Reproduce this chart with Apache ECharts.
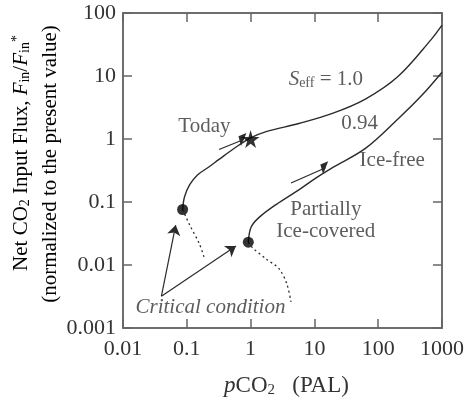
<!DOCTYPE html>
<html>
<head>
    <meta charset="utf-8" />
    <script src="https://cdn.jsdelivr.net/npm/echarts@6/dist/echarts.min.js"></script>
    <style>
        html, body { margin: 0; padding: 0; background: #fff; }
        #chart { width: 467px; height: 403px; }
    </style>
</head>
<body>
    <div id="chart"></div>
    <script type="text/javascript">
        // tick labels
        var xTickLabels = ['0.01', '0.1', '1', '10', '100', '1000'];
        var yTickLabels = ['0.001', '0.01', '0.1', '1', '10', '100'];

        // S_eff = 1.0 branch (pCO2, flux)
        var curve1X = [0.086, 0.092, 0.111, 0.147, 0.21, 0.324, 0.556, 1.0, 1.75, 5.7, 18.7, 63, 206, 675, 1000];
        var curve1Y = [0.076, 0.12, 0.188, 0.269, 0.346, 0.479, 0.713, 1.04, 1.31, 1.76, 2.52, 4.3, 9.9, 37.8, 64];

        // S_eff = 0.94 branch
        var curve2X = [0.92, 1.02, 1.36, 2.5, 5.7, 10.5, 18.7, 63, 206, 471, 1000];
        var curve2Y = [0.023, 0.040, 0.057, 0.091, 0.156, 0.24, 0.346, 0.71, 2.1, 4.8, 11.5];

        // dotted (unstable) continuations below the critical points
        var dotted1X = [0.086, 0.11, 0.158, 0.19];
        var dotted1Y = [0.076, 0.044, 0.0215, 0.0125];
        var dotted2X = [0.92, 1.06, 1.75, 2.8, 3.7, 4.3];
        var dotted2Y = [0.023, 0.019, 0.0125, 0.0087, 0.005, 0.0026];

        // markers
        var todayPoint = [1.0, 1.0];
        var criticalX = [0.086, 0.92];
        var criticalY = [0.076, 0.023];

        // arrows from the "Critical condition" label
        var criticalArrowFrom = [0.040, 0.0032];
        var criticalArrowTo = [[0.067, 0.043], [0.59, 0.020]];

        // direction arrows along the curves
        var flowArrows = [
            [[0.32, 0.68], [0.78, 0.98]],
            [[4.3, 0.20], [15, 0.35]]
        ];

        // annotation anchors
        var notes = [
            { name: 'today', at: [0.189, 1.57] },
            { name: 'seff', at: [15.1, 8.9] },
            { name: 'seff2', at: [51, 1.75] },
            { name: 'icefree', at: [166, 0.45] },
            { name: 'partial', at: [15.1, 0.051] },
            { name: 'critical', at: [0.235, 0.0021] }
        ];
        var noteText = {
            today: '{n|Today}',
            seff: '{i|S}{sub|eff}{n| = 1.0}',
            seff2: '{n|0.94}',
            icefree: '{n|Ice-free}',
            partial: '{n|Partially}\n{n|Ice-covered}',
            critical: '{i|Critical condition}'
        };

        var FONT = 'Liberation Serif';
        var INK = '#2b2b2b';
        var TXT = '#333';

        function zip(xs, ys) {
            var out = [];
            for (var i = 0; i < xs.length; i++) out.push([xs[i], ys[i]]);
            return out;
        }

        function tickIndex(v, lo) {
            return Math.round(Math.log(v) / Math.LN10) - lo;
        }

        var richBase = {
            n: { fontFamily: FONT, fontSize: 21, color: TXT, lineHeight: 22 },
            i: { fontFamily: FONT, fontSize: 21, fontStyle: 'italic', color: TXT, lineHeight: 22 },
            sub: { fontFamily: FONT, fontSize: 14, color: TXT, lineHeight: 11, verticalAlign: 'bottom' },
            sup: { fontFamily: FONT, fontSize: 14, color: TXT, lineHeight: 11, verticalAlign: 'top' }
        };
        var richTitle = {
            n: { fontFamily: FONT, fontSize: 23, color: TXT, lineHeight: 24 },
            i: { fontFamily: FONT, fontSize: 23, fontStyle: 'italic', color: TXT, lineHeight: 24 },
            sub: { fontFamily: FONT, fontSize: 15, color: TXT, lineHeight: 12, verticalAlign: 'bottom' }
        };

        var tickStyle = { show: true, inside: true, length: 9, lineStyle: { color: '#666', width: 1.5 } };
        var lineStyleAxis = { show: true, lineStyle: { color: '#666', width: 1.5 } };

        var chart = echarts.init(document.getElementById('chart'), null, { renderer: 'canvas' });

        var option = {
            animation: false,
            backgroundColor: '#fff',
            textStyle: { fontFamily: FONT },
            grid: {
                left: 123, right: 23, top: 13, bottom: 71,
                show: true, borderColor: '#666', borderWidth: 1.5
            },
            xAxis: [{
                type: 'log', logBase: 10, min: 0.01, max: 1000, splitNumber: 5,
                position: 'bottom',
                axisLine: lineStyleAxis,
                axisTick: tickStyle,
                splitLine: { show: false },
                axisLabel: {
                    margin: 10, fontFamily: FONT, fontSize: 22, color: TXT,
                    formatter: function (v) { return xTickLabels[tickIndex(v, -2)]; }
                },
                name: '{i|p}{n|CO}{sub|2}{n|   (PAL)}',
                nameLocation: 'middle', nameGap: 46,
                nameTextStyle: { rich: richTitle, padding: [0, 0, 0, 8] }
            }, {
                type: 'log', logBase: 10, min: 0.01, max: 1000, splitNumber: 5,
                position: 'top',
                axisLine: lineStyleAxis,
                axisTick: tickStyle,
                axisLabel: { show: false },
                splitLine: { show: false }
            }],
            yAxis: [{
                type: 'log', logBase: 10, min: 0.001, max: 100, splitNumber: 5,
                position: 'left',
                axisLine: lineStyleAxis,
                axisTick: tickStyle,
                splitLine: { show: false },
                axisLabel: {
                    margin: 7, fontFamily: FONT, fontSize: 22, color: TXT,
                    formatter: function (v) { return yTickLabels[tickIndex(v, -3)]; }
                }
            }, {
                type: 'log', logBase: 10, min: 0.001, max: 100, splitNumber: 5,
                position: 'right',
                axisLine: lineStyleAxis,
                axisTick: tickStyle,
                axisLabel: { show: false },
                splitLine: { show: false }
            }],
            graphic: [{
                type: 'text',
                x: 21, y: 153, rotation: Math.PI / 2,
                style: {
                    text: '{n|Net CO}{sub|2}{n| Input Flux, }{i|F}{sub|in}{n|/}{i|F}{sub|in}{sup|*}',
                    rich: richBase,
                    align: 'center', verticalAlign: 'middle'
                }
            }, {
                type: 'text',
                x: 50, y: 164, rotation: Math.PI / 2,
                style: {
                    text: '{n|(normalized to the present value)}',
                    rich: richBase,
                    align: 'center', verticalAlign: 'middle'
                }
            }],
            series: [{
                type: 'line', name: 'S_eff = 1.0',
                data: zip(curve1X, curve1Y),
                smooth: 0.35, showSymbol: false, symbol: 'none',
                lineStyle: { color: INK, width: 1.4 },
                z: 3
            }, {
                type: 'line', name: 'S_eff = 0.94',
                data: zip(curve2X, curve2Y),
                smooth: 0.35, showSymbol: false, symbol: 'none',
                lineStyle: { color: INK, width: 1.4 },
                z: 3
            }, {
                type: 'line', name: 'unstable 1',
                data: zip(dotted1X, dotted1Y),
                smooth: 0.3, showSymbol: false, symbol: 'none',
                lineStyle: { color: INK, width: 1.3, type: [2, 3] }
            }, {
                type: 'line', name: 'unstable 2',
                data: zip(dotted2X, dotted2Y),
                smooth: 0.3, showSymbol: false, symbol: 'none',
                lineStyle: { color: INK, width: 1.3, type: [2, 3] }
            }, {
                type: 'lines', coordinateSystem: 'cartesian2d',
                data: criticalArrowTo.map(function (p) { return { coords: [criticalArrowFrom, p] }; }),
                symbol: ['none', 'arrow'], symbolSize: [7, 10],
                lineStyle: { color: INK, width: 1.2, opacity: 1 },
                z: 4
            }, {
                type: 'lines', coordinateSystem: 'cartesian2d',
                data: flowArrows.map(function (c) { return { coords: c }; }),
                symbol: ['none', 'path://M0,0 L4,14 L0,12 Z'], symbolSize: [4, 10],
                lineStyle: { color: INK, width: 1.2, opacity: 1 },
                z: 4
            }, {
                type: 'scatter', name: 'Critical',
                data: zip(criticalX, criticalY),
                symbol: 'circle', symbolSize: 11,
                itemStyle: { color: '#000' },
                z: 5
            }, {
                type: 'scatter', name: 'Today',
                data: [todayPoint],
                symbol: 'path://M50,0 L61,35 L98,35 L68,57 L79,91 L50,70 L21,91 L32,57 L2,35 L39,35 Z',
                symbolSize: 18,
                itemStyle: { color: '#000' },
                z: 5
            }, {
                type: 'scatter', name: 'notes',
                data: notes.map(function (d) { return { name: d.name, value: d.at }; }),
                symbolSize: 0,
                silent: true,
                label: {
                    show: true, position: 'inside',
                    fontFamily: FONT, fontSize: 21, color: TXT,
                    align: 'center', verticalAlign: 'middle',
                    formatter: function (p) { return noteText[p.name]; },
                    rich: richBase
                },
                z: 6
            }]
        };

        chart.setOption(option);
    </script>
</body>
</html>
